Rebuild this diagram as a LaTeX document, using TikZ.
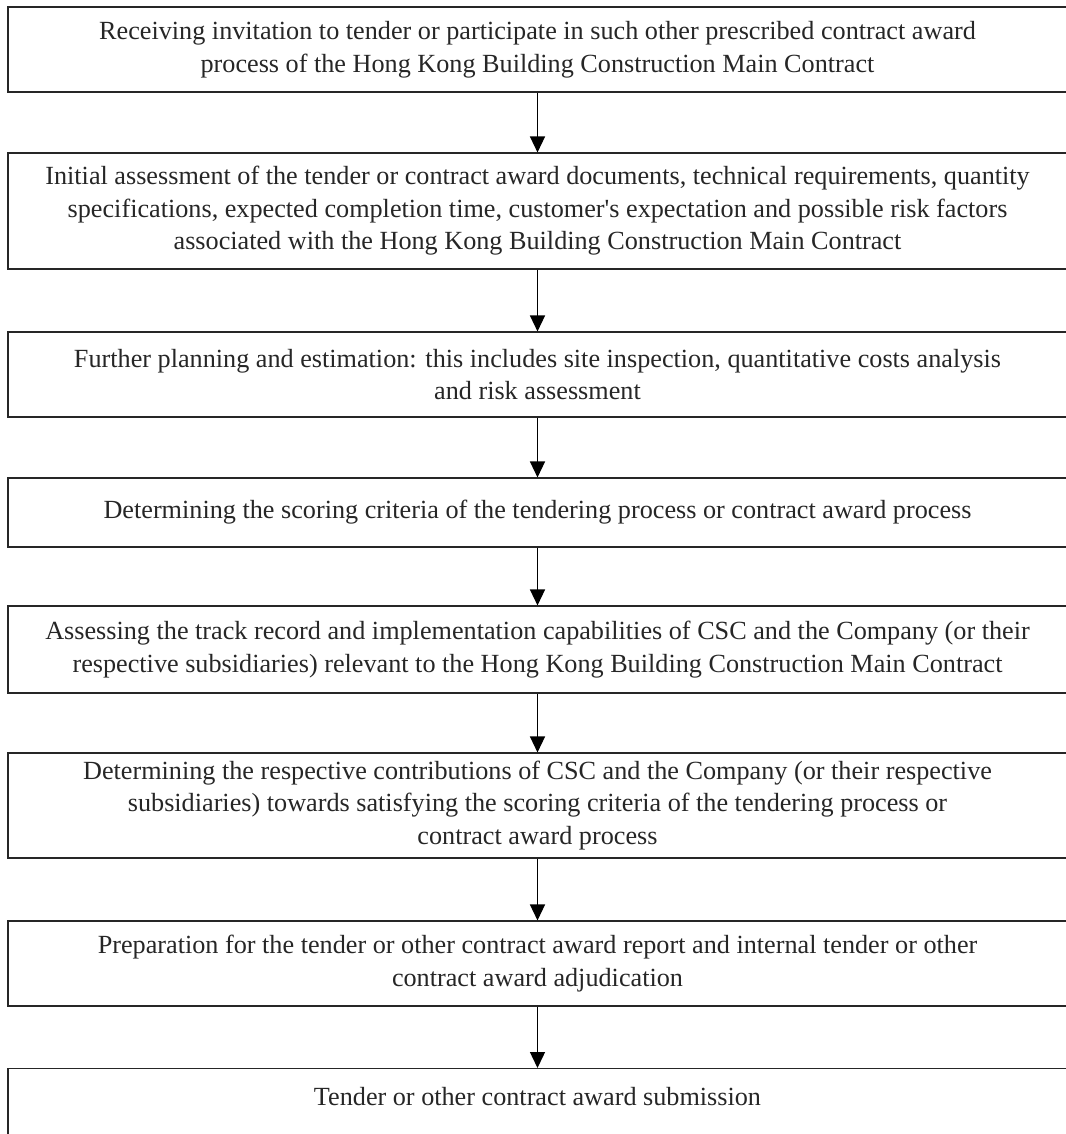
\documentclass[tikz,border=0pt]{standalone}
\usepackage{fontspec}
\setmainfont{Liberation Serif}
\usetikzlibrary{arrows.meta}
\begin{document}
\begin{tikzpicture}[x=1pt,y=-1pt,
  stepbox/.style={draw=black!85, line width=1.1pt, minimum width=1059pt, inner sep=0pt,
    align=center, font=\fontsize{26.2}{32.5}\selectfont, text=black!85},
  flow/.style={line width=1.4pt, -{Triangle[length=16pt,width=15pt]}}]
\useasboundingbox (0,0) rectangle (1065,1134);
\node[stepbox, minimum height=85pt] (b1) at (537.5,49.5)
  {Receiving invitation to tender or participate in such other prescribed contract award\\
   process of the Hong Kong Building Construction Main Contract};
\node[stepbox, minimum height=116pt] (b2) at (537.5,211)
  {Initial assessment of the tender or contract award documents, technical requirements, quantity\\
   specifications, expected completion time, customer\textquotesingle s expectation and possible risk factors\\
   associated with the Hong Kong Building Construction Main Contract};
\node[stepbox, minimum height=85pt] (b3) at (537.5,374.5)
  {Further planning and estimation: this includes site inspection, quantitative costs analysis\\
   and risk assessment};
\node[stepbox, minimum height=69pt] (b4) at (537.5,512.5)
  {Determining the scoring criteria of the tendering process or contract award process};
\node[stepbox, minimum height=87pt] (b5) at (537.5,649.5)
  {Assessing the track record and implementation capabilities of CSC and the Company (or their\\
   respective subsidiaries) relevant to the Hong Kong Building Construction Main Contract};
\node[stepbox, minimum height=105pt] (b6) at (537.5,805.5)
  {Determining the respective contributions of CSC and the Company (or their respective\\
   subsidiaries) towards satisfying the scoring criteria of the tendering process or\\
   contract award process};
\node[stepbox, minimum height=85pt] (b7) at (537.5,963.5)
  {Preparation for the tender or other contract award report and internal tender or other\\
   contract award adjudication};
\node[stepbox, anchor=north, text height=37pt, text depth=40pt] (b8) at (537.5,1068)
  {Tender or other contract award submission};
\draw[flow] (b1.south) -- (b2.north);
\draw[flow] (b2.south) -- (b3.north);
\draw[flow] (b3.south) -- (b4.north);
\draw[flow] (b4.south) -- (b5.north);
\draw[flow] (b5.south) -- (b6.north);
\draw[flow] (b6.south) -- (b7.north);
\draw[flow] (b7.south) -- (b8.north);
\end{tikzpicture}
\end{document}
